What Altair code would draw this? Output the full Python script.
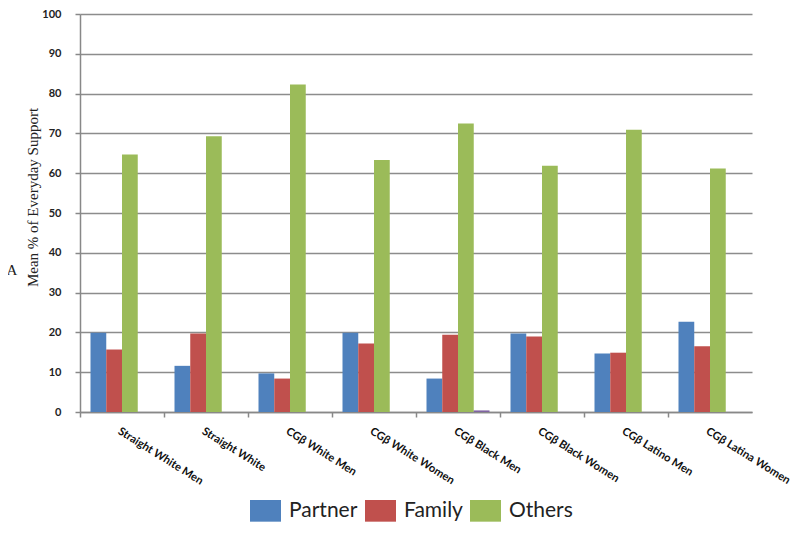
import altair as alt
import pandas as pd

categories = ["Straight White Men", "Straight White", "CGβ White Men", "CGβ White Women",
              "CGβ Black Men", "CGβ Black Women", "CGβ Latino Men", "CGβ Latina Women"]
series = ["Partner", "Family", "Others", "Series 4"]
partner = [19.9, 11.6, 9.7, 19.9, 8.4, 19.7, 14.7, 22.7]
family = [15.7, 19.7, 8.4, 17.2, 19.4, 19.0, 14.9, 16.5]
others = [64.7, 69.3, 82.3, 63.3, 72.5, 61.9, 70.9, 61.2]
series4 = [0, 0, 0, 0, 0.4, 0, 0, 0]
colors = ["#4f81bd", "#c0504d", "#9bbb59", "#8064a2"]

rows = []
for i, c in enumerate(categories):
    for s, vals in zip(series, [partner, family, others, series4]):
        rows.append({"group": c, "series": s, "value": vals[i]})
df = pd.DataFrame(rows)

bars = alt.Chart(df).mark_bar().encode(
    x=alt.X("group:N", sort=categories,
            scale=alt.Scale(paddingInner=0.25, paddingOuter=0.125),
            axis=alt.Axis(title=None, labelAngle=32, labelAlign="left", labelBaseline="top",
                          labelFont="Lato", labelFontWeight="bold", labelFontSize=11.2,
                          labelColor="#111111", labelPadding=8, labelOffset=41.5,
                          tickOffset=-42, tickSize=5, tickColor="#888888", tickWidth=1.5,
                          domainColor="#888888", domainWidth=1.5, grid=False)),
    xOffset=alt.XOffset("series:N", sort=series, scale=alt.Scale(paddingInner=0, paddingOuter=0)),
    y=alt.Y("value:Q", scale=alt.Scale(domain=[0, 100], nice=False),
            axis=alt.Axis(values=list(range(0, 101, 10)), title="Mean % of Everyday Support",
                          titleFont="Liberation Serif", titleFontSize=15, titleFontWeight="normal",
                          titleColor="#222222", titleX=-40, titleY=183, titleAngle=-90,
                          titleBaseline="bottom",
                          labelFont="Lato", labelFontWeight="bold", labelFontSize=11,
                          labelColor="#222222", labelPadding=14, tickSize=5,
                          tickColor="#888888", tickWidth=1.5, domainColor="#888888",
                          domainWidth=1.5, gridColor="#8c8c8c", gridWidth=1.5)),
    color=alt.Color("series:N", sort=series,
                    scale=alt.Scale(domain=series, range=colors),
                    legend=alt.Legend(title=None, values=series[:3], orient="none",
                                      direction="horizontal", legendX=170, legendY=481,
                                      symbolType="M-1,-0.7H1V0.7H-1Z", symbolSize=961,
                                      symbolStrokeWidth=0, symbolOpacity=1,
                                      labelFont="Lato", labelFontSize=21, labelColor="#222222",
                                      labelOffset=8, columnPadding=7, padding=0)),
)

letter = alt.Chart(pd.DataFrame({"t": ["A"]})).mark_text(
    font="Liberation Serif", fontSize=15, color="#222222"
).encode(x=alt.value(-68), y=alt.value(256), text="t:N")

chart = alt.layer(bars, letter).properties(
    width=672, height=398,
    autosize=alt.AutoSizeParams(type="none"),
    padding={"left": 72, "top": 6, "right": 40, "bottom": 112},
).configure_view(stroke=None)

chart.save("out.html", embed_options={"renderer": "svg", "actions": False})
